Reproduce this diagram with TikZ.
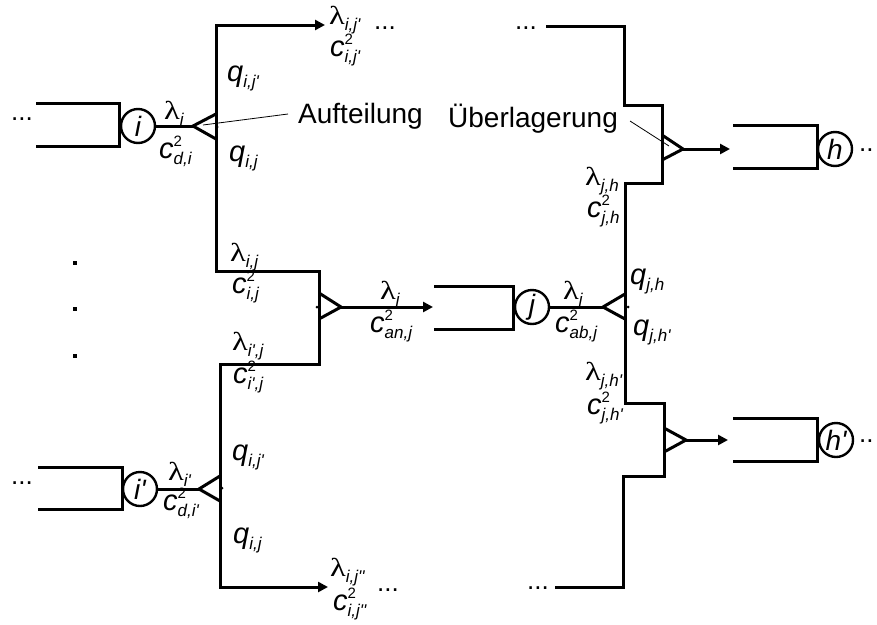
\documentclass[tikz,border=0pt]{standalone}
\usepackage{graphicx}
\usepackage{fontspec}
\setmainfont{Liberation Sans}
\newfontfamily\lamfont{Liberation Serif}
\usetikzlibrary{arrows.meta}
\newcommand{\smallsub}[1]{{\fontsize{17}{17}\selectfont #1}}
\newcommand{\lowsub}[1]{\raisebox{-0.22em}{\smallsub{\itshape #1}}}
\newcommand{\cvar}[1]{\textit{c}\rlap{\raisebox{0.4em}{\fontsize{15}{15}\selectfont 2}}\lowsub{#1}}
\newcommand{\lamv}[1]{{\lamfont\fontsize{26}{26}\selectfont\scalebox{1.25}[1]{λ}}\lowsub{#1}}
\newcommand{\qvar}[1]{\textit{q}\lowsub{#1}}
\newcommand{\pr}{\textquotesingle}
\begin{document}
\begin{tikzpicture}[x=1pt,y=-1pt,
  ln/.style={line width=3pt, line join=miter},
  arr/.style={ln,-{Triangle[length=10pt,width=10pt]}},
  srv/.style={circle,draw,line width=2.4pt,minimum size=34pt,inner sep=0pt,font=\fontsize{28}{28}\selectfont\itshape},
  lbl/.style={anchor=base west,inner sep=0pt,font=\fontsize{29}{32}\selectfont},
  dots/.style={anchor=base west,inner sep=0pt,font=\fontsize{26}{26}\selectfont},
  word/.style={anchor=base west,inner sep=0pt,font=\fontsize{28}{30}\selectfont},
  leader/.style={line width=0.8pt},
  dotm/.style={fill,minimum size=4pt,inner sep=0pt},
  jdot/.style={fill,circle,minimum size=3pt,inner sep=0pt}]
\useasboundingbox (0,0) rectangle (877,624);

% ---------- queues ----------
\draw[ln] (36,103) -- (119,103) -- (119,146) -- (36,146);
\draw[ln] (38,467) -- (122,467) -- (122,509) -- (38,509);
\draw[ln] (434,286) -- (513,286) -- (513,329) -- (434,329);
\draw[ln] (733,125) -- (817,125) -- (817,168) -- (733,168);
\draw[ln] (733,418) -- (817,418) -- (817,461) -- (733,461);

% ---------- servers ----------
\node[srv] (ci)  at (138,126) {i};
\node[srv] (cip) at (140,489) {i\pr};
\node[srv] (cj)  at (532,307) {j};
\node[srv] (ch)  at (835,149) {h};
\node[srv] (chp) at (836,440) {h\pr};

% ---------- split / merge triangles ----------
\coordinate (t1) at (193,126);
\coordinate (t2) at (341,307);
\coordinate (t3) at (199,489);
\coordinate (t4) at (603,307);
\coordinate (t5) at (683,149);
\coordinate (t6) at (686,440);
\draw[ln] (216,114) -- (t1) -- (216,139);
\draw[ln] (319,293) -- (t2) -- (319,319);
\draw[ln] (220,476) -- (t3) -- (220,501);
\draw[ln] (625,294) -- (t4) -- (625,319);
\draw[ln] (662,135) -- (t5) -- (662,160);
\draw[ln] (664,428) -- (t6) -- (664,452);

% ---------- connectors ----------
\coordinate (oA) at (325,25);
\coordinate (oB) at (328,587);
\coordinate (qjin) at (433,307);
\coordinate (qhin) at (730,149);
\coordinate (qhpin) at (728,440);
\coordinate (rA) at (546,26);
\coordinate (rB) at (555,587);
\draw[ln] (ci) -- (t1);
\draw[ln] (cip) -- (t3);
\draw[ln] (cj) -- (t4);
\draw[arr] (t2) -- (qjin);
\draw[arr] (t5) -- (qhin);
\draw[arr] (t6) -- (qhpin);
\draw[ln,{Triangle[length=10pt,width=10pt]}-{Triangle[length=10pt,width=10pt]}]
  (oA) -- (216,25) -- (216,271) -- (319,271) -- (319,364) -- (220,364) -- (220,587) -- (oB);
\draw[ln] (rA) -- (624,26) -- (624,105) -- (662,105) -- (662,183) -- (625,183)
  -- (625,403) -- (664,403) -- (664,476) -- (623,476) -- (623,587) -- (rB);

% junction dots
\node[jdot] (j1) at (217,127) {};
\node[jdot] (j2) at (317,307) {};
\node[jdot] (j3) at (628,307) {};
\node[jdot] (j4) at (222,488) {};

% ---------- vertical dots ----------
\node[dotm] (v1) at (75,263) {};
\node[dotm] (v2) at (75,309) {};
\node[dotm] (v3) at (75,356) {};

% ---------- ellipses ----------
\node[dots] (e1) at (11,120) {...};
\node[dots] (e2) at (11,484) {...};
\node[dots] (e3) at (374,29) {...};
\node[dots] (e4) at (377,591) {...};
\node[dots] (e5) at (515,29) {...};
\node[dots] (e6) at (527,589) {...};
\node[dots] (e7) at (859,151) {..};
\node[dots] (e8) at (859,442) {..};

% ---------- labels ----------
\node[lbl] (l1) at (164,119) {\lamv{i}};
\node[lbl] (l2) at (159,158) {\cvar{d,i}};
\node[lbl] (l3) at (227,81) {\qvar{i,j\pr}};
\node[lbl] (l4) at (229,161) {\qvar{i,j}};
\node[lbl] (l5) at (329,24) {\lamv{i,j\pr}};
\node[lbl] (l6) at (330,56) {\cvar{i,j\pr}};
\node[lbl] (l7) at (230,261) {\lamv{i,j}};
\node[lbl] (l8) at (232,293) {\cvar{i,j}};
\node[lbl] (l9) at (380,299) {\lamv{j}};
\node[lbl] (l10) at (370,332) {\cvar{an,j}};
\node[lbl] (l11) at (232,350) {\lamv{i\pr,j}};
\node[lbl] (l12) at (233,383) {\cvar{i\pr,j}};
\node[lbl] (l13) at (168,480) {\lamv{i\pr}};
\node[lbl] (l14) at (163,510) {\cvar{d,i\pr}};
\node[lbl] (l15) at (232,460) {\qvar{i,j\pr}};
\node[lbl] (l16) at (233,543) {\qvar{i,j}};
\node[lbl] (l17) at (330,576) {\lamv{i,j\pr\pr}};
\node[lbl] (l18) at (333,610) {\cvar{i,j\pr\pr}};
\node[lbl] (l19) at (585,185) {\lamv{j,h}};
\node[lbl] (l20) at (587,217) {\cvar{j,h}};
\node[lbl] (l21) at (630,284) {\qvar{j,h}};
\node[lbl] (l22) at (633,335) {\qvar{j,h\pr}};
\node[lbl] (l23) at (563,299) {\lamv{j}};
\node[lbl] (l24) at (555,332) {\cvar{ab,j}};
\node[lbl] (l25) at (585,380) {\lamv{j,h\pr}};
\node[lbl] (l26) at (587,414) {\cvar{j,h\pr}};

% ---------- annotations ----------
\node[word] (auf) at (298,123) {Aufteilung};
\node[word] (ueb) at (448,127) {Überlagerung};
\coordinate (aufL) at (288,114);
\coordinate (aufP) at (203,125);
\coordinate (uebR) at (630,121);
\coordinate (uebP) at (669,146);
\draw[leader] (aufL) -- (aufP);
\draw[leader] (uebR) -- (uebP);
\end{tikzpicture}
\end{document}
